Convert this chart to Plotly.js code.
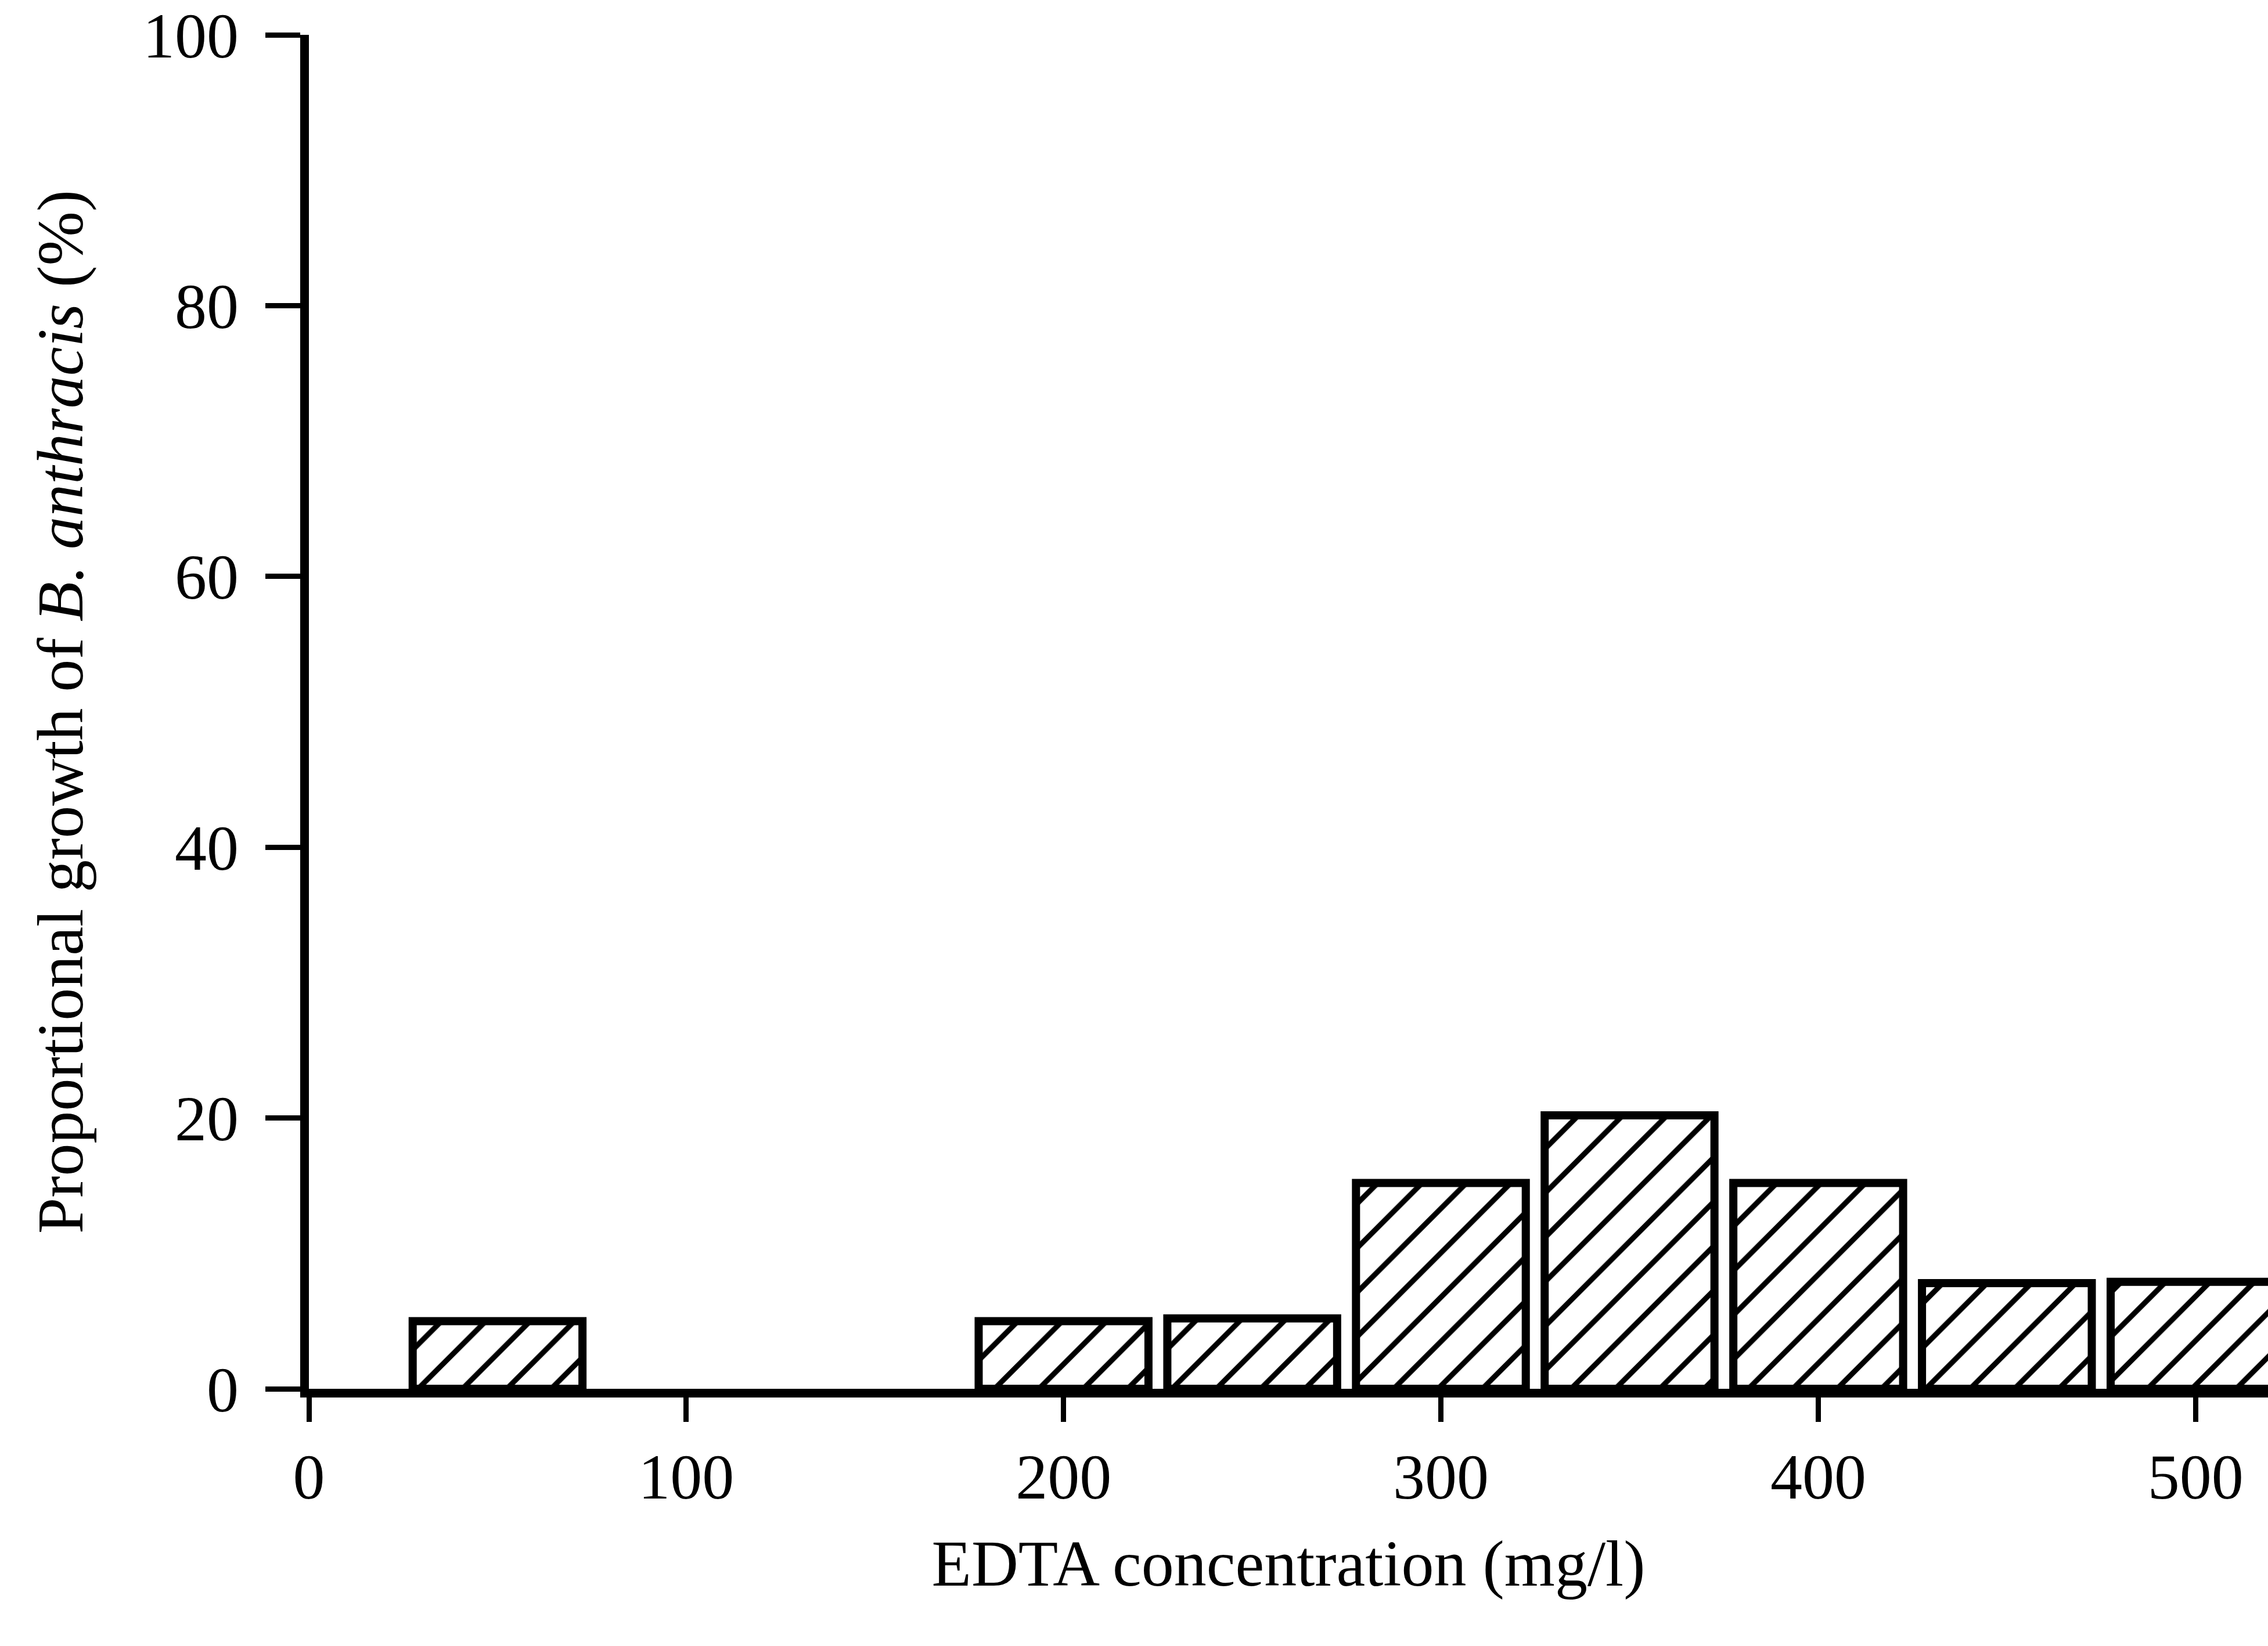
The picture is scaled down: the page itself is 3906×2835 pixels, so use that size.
<!DOCTYPE html>
<html>
<head>
<meta charset="utf-8">
<script src="https://cdn.plot.ly/plotly-3.0.1.min.js"></script>
<style>html,body{margin:0;padding:0;background:#fff;}#chart{width:3906px;height:2835px;}</style>
</head>
<body>
<div id="chart"></div>
<script>
// EDTA concentration (mg/l) at which each bar is centred
var concentrations = [50, 200, 250, 300, 350, 400, 450, 500];
// Proportional growth of B. anthracis (%)
var growth = [5.0, 5.0, 5.2, 15.2, 20.2, 15.2, 7.8, 7.9];
var xTickValues = [0, 100, 200, 300, 400, 500];
var yTickValues = [0, 20, 40, 60, 80, 100];
var xTitle = "EDTA concentration (mg/l)";
var yTitle = "Proportional growth of <i>B. anthracis</i> (%)";

var fontFamily = "Liberation Serif, Times New Roman, serif";

var trace = {
  type: "bar",
  x: concentrations,
  y: growth,
  width: 45,
  marker: {
    color: "#ffffff",
    line: {color: "#000000", width: 14},
    pattern: {shape: "/", fgcolor: "#000000", bgcolor: "#ffffff", size: 54, solidity: 0.17, fillmode: "replace"}
  },
  hoverinfo: "x+y",
  showlegend: false
};

var layout = {
  width: 3906,
  height: 2835,
  paper_bgcolor: "#ffffff",
  plot_bgcolor: "#ffffff",
  margin: {l: 532, r: 0, t: 60, b: 443, pad: 0},
  font: {family: fontFamily, color: "#000000", size: 110},
  xaxis: {
    range: [0, 519.2],
    tickmode: "array",
    tickvals: xTickValues,
    ticktext: xTickValues.map(String),
    ticks: "outside",
    ticklen: 42,
    tickwidth: 9,
    tickcolor: "#000000",
    ticklabelstandoff: 0,
    showline: true,
    linecolor: "#000000",
    linewidth: 15,
    showgrid: false,
    zeroline: false,
    tickfont: {family: fontFamily, size: 110, color: "#000000"},
    title: {text: xTitle, font: {family: fontFamily, size: 112, color: "#000000"}, standoff: 55}
  },
  yaxis: {
    range: [0, 100],
    tickmode: "array",
    tickvals: yTickValues,
    ticktext: yTickValues.map(String),
    ticks: "outside",
    ticklen: 60,
    tickwidth: 9,
    tickcolor: "#000000",
    ticklabelstandoff: 24,
    showline: true,
    linecolor: "#000000",
    linewidth: 15,
    showgrid: false,
    zeroline: false,
    tickfont: {family: fontFamily, size: 110, color: "#000000"},
    title: {text: yTitle, font: {family: fontFamily, size: 112, color: "#000000"}, standoff: 72}
  },
  bargap: 0.1
};

Plotly.newPlot("chart", [trace], layout, {displayModeBar: false, staticPlot: true});
</script>
</body>
</html>
